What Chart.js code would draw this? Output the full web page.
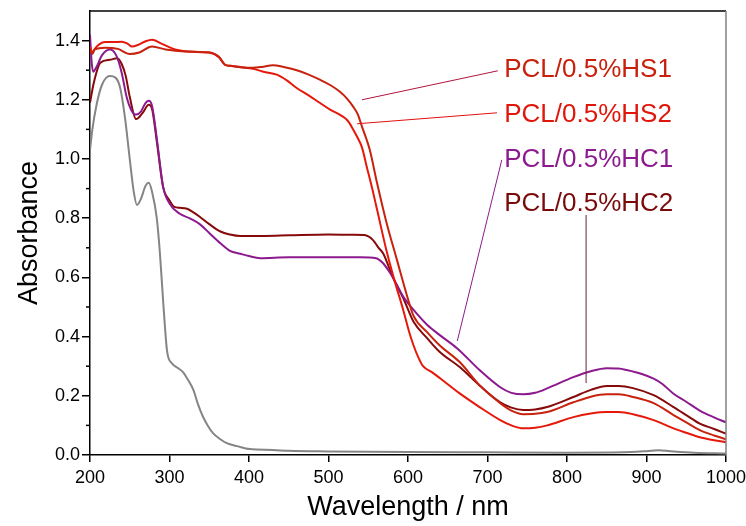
<!DOCTYPE html>
<html>
<head>
<meta charset="utf-8">
<script src="https://cdn.jsdelivr.net/npm/chart.js@4.4.1/dist/chart.umd.min.js"></script>
<style>
  body { margin: 0; background: #fff; }
  #wrap { width: 746px; height: 526px; }
</style>
</head>
<body>
<div id="wrap"><canvas id="uvChart" width="746" height="526"></canvas></div>
<script>
// [wavelength nm, absorbance]
const pcl = [[200,1.03],[203,1.10],[208,1.18],[215,1.25],[225,1.28],[232,1.275],[238,1.24],[244,1.14],[250,1.0],[255,0.89],[259,0.845],[264,0.865],[270,0.91],[274,0.92],[278,0.89],[284,0.80],[288,0.68],[292,0.52],[297,0.35],[303,0.31],[310,0.295],[317,0.28],[323,0.255],[330,0.22],[336,0.17],[342,0.13],[348,0.1],[355,0.073],[363,0.055],[372,0.04],[385,0.03],[401,0.02],[430,0.017],[450,0.014],[500,0.012],[600,0.01],[700,0.009],[800,0.008],[870,0.009],[900,0.013],[915,0.016],[930,0.013],[960,0.008],[1000,0.005]];

const hc1 = [[200,1.42],[202,1.33],[204,1.295],[208,1.31],[215,1.35],[225,1.37],[233,1.35],[240,1.29],[246,1.21],[252,1.165],[258,1.15],[264,1.16],[270,1.19],[274,1.197],[278,1.18],[284,1.07],[292,0.906],[300,0.85],[313,0.815],[325,0.80],[338,0.78],[350,0.75],[364,0.715],[376,0.69],[389,0.68],[400,0.672],[414,0.665],[450,0.668],[500,0.668],[540,0.668],[560,0.665],[569,0.647],[575,0.625],[581,0.60],[594,0.535],[607,0.49],[624,0.44],[640,0.405],[662,0.36],[690,0.287],[716,0.229],[730,0.21],[745,0.205],[760,0.21],[775,0.225],[808,0.263],[830,0.283],[850,0.293],[865,0.292],[875,0.287],[895,0.273],[909,0.258],[920,0.24],[934,0.207],[950,0.18],[967,0.15],[985,0.127],[1000,0.11]];

const hc2 = [[200,1.19],[205,1.26],[213,1.325],[225,1.335],[234,1.34],[240,1.32],[245,1.28],[250,1.21],[258,1.135],[266,1.155],[274,1.183],[278,1.17],[284,1.06],[292,0.905],[300,0.86],[306,0.838],[313,0.835],[322,0.832],[330,0.82],[338,0.805],[350,0.78],[364,0.755],[376,0.745],[389,0.74],[420,0.74],[450,0.742],[500,0.745],[530,0.744],[545,0.743],[556,0.726],[563,0.70],[569,0.68],[581,0.60],[594,0.53],[607,0.45],[624,0.395],[640,0.348],[665,0.297],[690,0.235],[716,0.178],[730,0.16],[745,0.152],[760,0.154],[775,0.162],[808,0.196],[830,0.22],[850,0.233],[865,0.233],[883,0.226],[909,0.202],[934,0.162],[950,0.135],[967,0.106],[985,0.088],[1000,0.072]];

const hs1 = [[200,1.37],[203,1.355],[206,1.37],[219,1.376],[235,1.372],[250,1.355],[262,1.36],[278,1.38],[295,1.37],[307,1.366],[330,1.362],[350,1.36],[362,1.345],[370,1.318],[376,1.315],[390,1.31],[405,1.308],[418,1.312],[430,1.317],[445,1.31],[460,1.30],[475,1.285],[489,1.268],[502,1.25],[514,1.228],[523,1.205],[531,1.177],[537,1.15],[542,1.11],[548,1.065],[552,1.03],[561,0.92],[573,0.785],[586,0.66],[598,0.545],[607,0.47],[624,0.415],[640,0.37],[665,0.314],[690,0.236],[716,0.175],[730,0.15],[745,0.138],[760,0.139],[775,0.145],[808,0.178],[830,0.197],[850,0.205],[865,0.205],[883,0.196],[909,0.175],[934,0.135],[950,0.11],[967,0.084],[985,0.066],[1000,0.053]];

const hs2 = [[200,1.38],[203,1.36],[206,1.372],[212,1.388],[219,1.395],[230,1.395],[240,1.396],[247,1.39],[253,1.38],[260,1.385],[270,1.398],[278,1.403],[290,1.39],[307,1.37],[330,1.362],[350,1.36],[362,1.345],[370,1.318],[376,1.315],[390,1.31],[405,1.305],[418,1.295],[435,1.285],[448,1.265],[460,1.24],[475,1.215],[489,1.19],[502,1.167],[514,1.15],[524,1.13],[531,1.10],[536,1.075],[542,1.04],[548,0.975],[555,0.90],[561,0.83],[573,0.69],[583,0.59],[594,0.49],[601,0.42],[607,0.37],[613,0.33],[619,0.30],[630,0.28],[640,0.26],[665,0.208],[690,0.162],[716,0.118],[730,0.1],[745,0.09],[760,0.092],[775,0.1],[808,0.128],[830,0.14],[850,0.145],[865,0.145],[883,0.138],[909,0.118],[934,0.09],[950,0.075],[967,0.06],[985,0.05],[1000,0.043]];

const seriesNames = ["PCL", "PCL/0.5%HS1", "PCL/0.5%HS2", "PCL/0.5%HC1", "PCL/0.5%HC2"];
const seriesData = [pcl, hs1, hs2, hc1, hc2];
const xTicks = [200, 300, 400, 500, 600, 700, 800, 900, 1000];
const yTicks = [0.0, 0.2, 0.4, 0.6, 0.8, 1.0, 1.2, 1.4];

const lineColors = ["#858585", "#c8220e", "#e6180a", "#8c1a8e", "#870a0a"];

// label text anchor and leader line, all in data units
const labels = [
  { series: 1, text: [721, 1.30], from: [713, 1.298], to: [542, 1.20], color: "#c8200c", lineColor: "#b4143c" },
  { series: 2, text: [721, 1.15], from: [712, 1.156], to: [536, 1.119], color: "#e0160a", lineColor: "#e01010" },
  { series: 3, text: [721, 0.997], from: [718, 0.997], to: [662, 0.385], color: "#8c1a8e", lineColor: "#8c1a8e" },
  { series: 4, text: [721, 0.848], from: [824, 0.811], to: [824, 0.243], color: "#7a0a0a", lineColor: "#6b2040" },
];

const labelPlugin = {
  id: "labelPlugin",
  afterDatasetsDraw(chart) {
    const { ctx, scales: { x, y }, chartArea } = chart;
    ctx.save();
    // top and right frame
    ctx.lineWidth = 1.5;
    ctx.strokeStyle = "#000";
    ctx.beginPath();
    ctx.moveTo(chartArea.left, chartArea.top);
    ctx.lineTo(chartArea.right, chartArea.top);
    ctx.stroke();
    ctx.strokeStyle = "#808080";
    ctx.beginPath();
    ctx.moveTo(chartArea.right, chartArea.top);
    ctx.lineTo(chartArea.right, chartArea.bottom);
    ctx.stroke();

    // minor y ticks
    ctx.strokeStyle = "#000";
    for (let v = 0.1; v < 1.45; v += 0.2) {
      const py = y.getPixelForValue(v);
      ctx.beginPath();
      ctx.moveTo(chartArea.left - 4, py);
      ctx.lineTo(chartArea.left, py);
      ctx.stroke();
    }

    ctx.lineWidth = 1;
    ctx.font = "26px 'Liberation Sans', Arial, sans-serif";
    ctx.textAlign = "left";
    ctx.textBaseline = "middle";
    labels.forEach((l) => {
      ctx.strokeStyle = l.lineColor;
      ctx.beginPath();
      ctx.moveTo(x.getPixelForValue(l.from[0]), y.getPixelForValue(l.from[1]));
      ctx.lineTo(x.getPixelForValue(l.to[0]), y.getPixelForValue(l.to[1]));
      ctx.stroke();
      ctx.fillStyle = l.color;
      ctx.fillText(seriesNames[l.series], x.getPixelForValue(l.text[0]), y.getPixelForValue(l.text[1]));
    });
    ctx.restore();
  },
};

const ctx = document.getElementById("uvChart").getContext("2d");

new Chart(ctx, {
  type: "line",
  data: {
    datasets: seriesData.map((d, i) => ({
      label: seriesNames[i],
      data: d.map((p) => ({ x: p[0], y: p[1] })),
      borderColor: lineColors[i],
      borderWidth: 2,
      pointRadius: 0,
      fill: false,
      cubicInterpolationMode: "monotone",
    })),
  },
  options: {
    responsive: false,
    animation: false,
    devicePixelRatio: 1,
    layout: { padding: { left: 0, right: 20, top: 11, bottom: 0 } },
    plugins: {
      legend: { display: false },
      tooltip: { enabled: false },
    },
    scales: {
      x: {
        type: "linear",
        min: 200,
        max: 1000,
        afterBuildTicks: (scale) => {
          scale.ticks = xTicks.map((v) => ({ value: v }));
        },
        afterFit: (scale) => {
          scale.height = 71;
          scale.paddingLeft = 0;
          scale.paddingRight = 0;
        },
        ticks: {
          color: "#000",
          padding: 5,
          maxRotation: 0,
          font: { family: "'Liberation Sans', Arial, sans-serif", size: 18 },
          callback: (v) => String(v),
        },
        grid: { drawOnChartArea: false, tickLength: 7, color: "#000", lineWidth: 1.5 },
        border: { display: true, color: "#000", width: 1.5 },
        title: {
          display: true,
          text: "Wavelength / nm",
          color: "#000",
          font: { family: "'Liberation Sans', Arial, sans-serif", size: 27 },
          padding: { top: 0, bottom: 2 },
        },
      },
      y: {
        type: "linear",
        min: 0,
        max: 1.5,
        afterBuildTicks: (scale) => {
          scale.ticks = yTicks.map((v) => ({ value: v }));
        },
        afterFit: (scale) => {
          scale.width = 90;
          scale.paddingTop = 0;
          scale.paddingBottom = 0;
        },
        ticks: {
          color: "#000",
          padding: 2,
          font: { family: "'Liberation Sans', Arial, sans-serif", size: 18 },
          callback: (v) => Number(v).toFixed(1),
        },
        grid: { drawOnChartArea: false, tickLength: 8, color: "#000", lineWidth: 1.5 },
        border: { display: true, color: "#000", width: 1.5 },
        title: {
          display: true,
          text: "Absorbance",
          color: "#000",
          font: { family: "'Liberation Sans', Arial, sans-serif", size: 27 },
          padding: { top: 13, bottom: 0 },
        },
      },
    },
  },
  plugins: [labelPlugin],
});
</script>
</body>
</html>
